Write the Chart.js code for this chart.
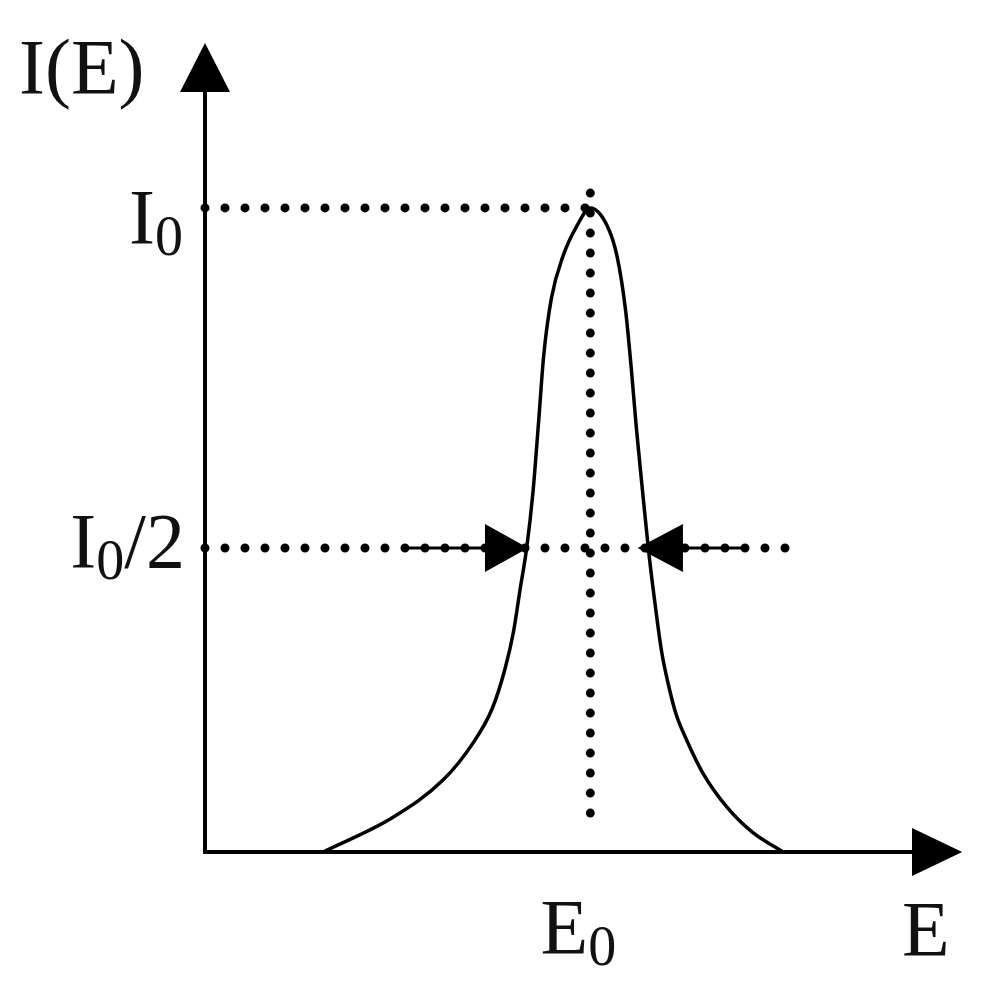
<!DOCTYPE html>
<html>
<head>
<meta charset="utf-8">
<script src="https://cdn.jsdelivr.net/npm/chart.js@4.4.1/dist/chart.umd.min.js"></script>
<style>
  html, body { margin: 0; padding: 0; background: #fff; }
</style>
</head>
<body>
<canvas id="myChart" width="992" height="988"></canvas>
<script>
// peak shape: E on a 0..100 axis, I normalised so I0 = 1
const curveE = [16.7, 26.6, 33.7, 37.9, 40.6, 42.4, 43.6, 44.6, 45.5, 46.4, 47.2, 47.9, 49.0, 50.6, 52.6, 54.5,
  56.9, 58.3, 59.5, 60.3, 61.0, 61.8, 62.7, 63.6, 64.6, 65.5, 66.6, 68.2, 70.4, 73.8, 77.5, 81.8];
const curveI = [0, 0.054, 0.112, 0.169, 0.222, 0.283, 0.34, 0.41, 0.472, 0.56, 0.67, 0.77, 0.86, 0.924, 0.972, 1.0,
  0.972, 0.924, 0.84, 0.75, 0.66, 0.57, 0.472, 0.39, 0.31, 0.262, 0.215, 0.172, 0.123, 0.070, 0.030, 0];

const E0 = 54.5;
const I0 = 1;
const halfI = 0.472;
const halfLineEnd = 82.5;
const e0LineTop = 1.023;
const e0LineBottom = 0.05;

// FWHM arrows along I0/2: tail of shaft, base of head, tip of head
const leftArrow = [28.3, 39.6, 45.7];
const rightArrow = [76.8, 67.6, 61.2];

// axes
const eMax = 100;
const iMax = 1.18;
const eArrowTip = 107.1;
const iArrowTip = 1.256;

const FONT = '"Liberation Serif", "Times New Roman", serif';

function pts(xs, ys) {
  return xs.map((x, i) => ({ x: x, y: ys[i] }));
}

function dotted(data) {
  return {
    data: data,
    showLine: true,
    borderColor: "#000",
    borderWidth: 9,
    borderDash: [0, 20],
    borderCapStyle: "round",
    pointRadius: 0,
    clip: false,
  };
}

function solid(data, w) {
  return {
    data: data,
    showLine: true,
    borderColor: "#000",
    borderWidth: w,
    pointRadius: 0,
    clip: false,
  };
}

// text with a subscript, e.g. I + 0 + "/2"
function subText(ctx, main, sub, tail, x, y, align) {
  ctx.font = "78px " + FONT;
  let wMain = ctx.measureText(main).width;
  let wTail = ctx.measureText(tail).width;
  ctx.font = "56px " + FONT;
  let wSub = ctx.measureText(sub).width;
  let total = wMain + wSub + wTail;
  let left = x;
  if (align === "right") left = x - total;
  if (align === "center") left = x - total / 2;
  ctx.textAlign = "left";
  ctx.textBaseline = "alphabetic";
  ctx.font = "78px " + FONT;
  ctx.fillText(main, left, y);
  ctx.font = "56px " + FONT;
  ctx.fillText(sub, left + wMain, y + 12);
  ctx.font = "78px " + FONT;
  ctx.fillText(tail, left + wMain + wSub, y);
}

const arrowsAndLabels = {
  id: "arrowsAndLabels",
  afterDraw(chart) {
    const ctx = chart.ctx;
    const xs = chart.scales.x;
    const ys = chart.scales.y;
    const ca = chart.chartArea;
    ctx.save();
    ctx.fillStyle = "#000";

    // horizontal head: base at bx, tip at tx, row y
    function headH(bx, tx, y, half) {
      ctx.beginPath();
      ctx.moveTo(bx, y - half);
      ctx.lineTo(tx, y);
      ctx.lineTo(bx, y + half);
      ctx.closePath();
      ctx.fill();
    }

    // axis heads
    const x0 = xs.getPixelForValue(0);
    const y0 = ys.getPixelForValue(0);
    const yTop = ys.getPixelForValue(iMax);
    const yTip = ys.getPixelForValue(iArrowTip);
    ctx.beginPath();
    ctx.moveTo(x0 - 25, yTop);
    ctx.lineTo(x0, yTip);
    ctx.lineTo(x0 + 25, yTop);
    ctx.closePath();
    ctx.fill();
    headH(xs.getPixelForValue(eMax), xs.getPixelForValue(eArrowTip), y0, 24);

    // FWHM heads
    const yh = ys.getPixelForValue(halfI);
    headH(xs.getPixelForValue(leftArrow[1]), xs.getPixelForValue(leftArrow[2]), yh, 24);
    headH(xs.getPixelForValue(rightArrow[1]), xs.getPixelForValue(rightArrow[2]), yh, 24);

    // labels
    ctx.fillStyle = "#111";
    subText(ctx, "I(E)", "", "", ca.left - 186, yTip + 50, "left");
    subText(ctx, "I", "0", "", ca.left - 22, ys.getPixelForValue(I0) + 35, "right");
    subText(ctx, "I", "0", "/2", ca.left - 20, yh + 19, "right");
    subText(ctx, "E", "0", "", xs.getPixelForValue(E0) - 12, y0 + 101, "center");
    subText(ctx, "E", "", "", xs.getPixelForValue(eMax) - 10, y0 + 103, "left");
    ctx.restore();
  },
};

new Chart(document.getElementById("myChart"), {
  type: "scatter",
  data: {
    datasets: [
      dotted(pts([0, E0], [I0, I0])),
      dotted(pts([E0, E0], [e0LineTop, e0LineBottom])),
      dotted(pts([0, halfLineEnd], [halfI, halfI])),
      solid(pts([leftArrow[0], leftArrow[1]], [halfI, halfI]), 3),
      solid(pts([rightArrow[0], rightArrow[1]], [halfI, halfI]), 3),
      Object.assign(solid(pts(curveE, curveI), 3.5), { cubicInterpolationMode: "monotone" }),
    ],
  },
  options: {
    responsive: false,
    animation: false,
    layout: { padding: { left: 205, right: 80, top: 92, bottom: 136 } },
    plugins: { legend: { display: false }, tooltip: { enabled: false } },
    scales: {
      x: {
        type: "linear",
        min: 0,
        max: eMax,
        ticks: { display: false },
        grid: { display: false, drawTicks: false },
        border: { display: true, color: "#000", width: 4 },
      },
      y: {
        type: "linear",
        min: 0,
        max: iMax,
        ticks: { display: false },
        grid: { display: false, drawTicks: false },
        border: { display: true, color: "#000", width: 4 },
      },
    },
  },
  plugins: [arrowsAndLabels],
});
</script>
</body>
</html>
